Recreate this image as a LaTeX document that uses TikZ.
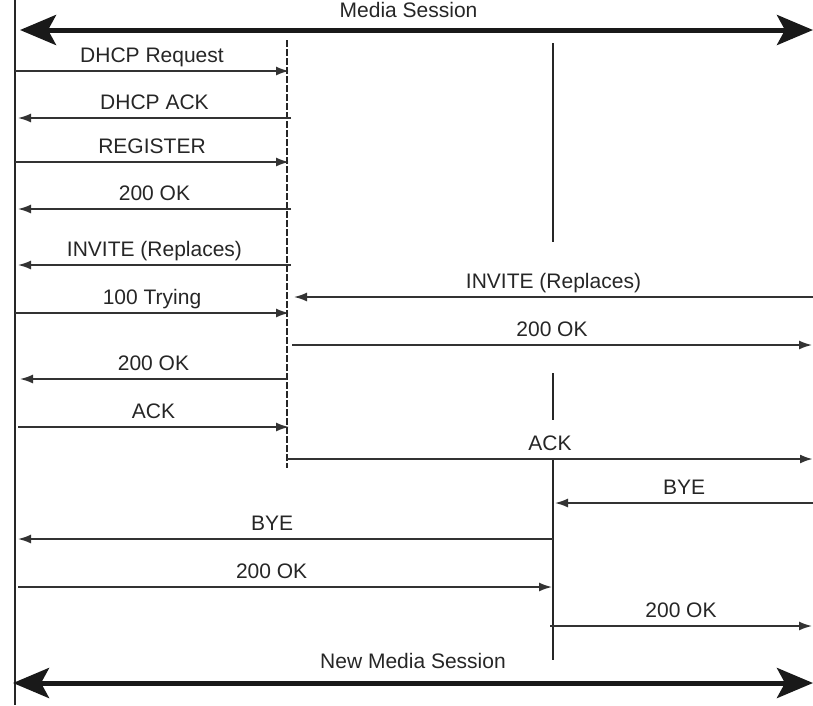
\documentclass[tikz,border=0pt]{standalone}
\usepackage{fontspec}
\setmainfont{Liberation Sans}
\usetikzlibrary{arrows.meta}

\begin{document}
\begin{tikzpicture}[
    x=1pt, y=-1pt,
    lifeline/.style={draw=black!85, line width=1.8pt},
    msg/.style={draw=black!80, line width=1.6pt, -{Latex[length=13pt, width=9pt]}},
    lbl/.style={anchor=base, yshift=9pt, inner sep=0pt, text=black!85, font=\fontsize{21}{25}\selectfont},
    session/.style={draw=black!90, line width=5pt, {Stealth[length=36pt, width=30pt, inset=8pt]}-{Stealth[length=36pt, width=30pt, inset=8pt]}}
]
\useasboundingbox (0,0) rectangle (813,705);

% lifelines
\coordinate (phoneTop) at (15,0);
\coordinate (phoneBot) at (15,705);
\coordinate (proxyTop) at (287,40);
\coordinate (proxyBot) at (287,468);
\coordinate (uaTopA) at (553,43);
\coordinate (uaBotA) at (553,242);
\coordinate (uaTopB) at (553,373);
\coordinate (uaBotB) at (553,420);
\coordinate (uaTopC) at (553,458);
\coordinate (uaBotC) at (553,660);

\draw[lifeline] (phoneTop) -- (phoneBot);
\draw[lifeline, line width=2.2pt, dash pattern=on 7pt off 2pt] (proxyTop) -- (proxyBot);
\draw[lifeline] (uaTopA) -- (uaBotA);
\draw[lifeline] (uaTopB) -- (uaBotB);
\draw[lifeline] (uaTopC) -- (uaBotC);

% media sessions
\coordinate (sesL) at (20,30);
\coordinate (sesR) at (813,30);
\coordinate (newSesL) at (13,683);
\coordinate (newSesR) at (813,683);
\draw[session] (sesL) -- (sesR) node[lbl, pos=.49, yshift=4pt] {Media Session};
\draw[session] (newSesL) -- (newSesR) node[lbl, midway, yshift=6pt] {New Media Session};

% messages between phone and proxy
\coordinate (dreqA) at (15,71);   \coordinate (dreqB) at (289,71);
\coordinate (dackA) at (291,118); \coordinate (dackB) at (18,118);
\coordinate (regA) at (15,162);   \coordinate (regB) at (289,162);
\coordinate (okA) at (291,209);   \coordinate (okB) at (18,209);
\coordinate (invA) at (291,265);  \coordinate (invB) at (18,265);
\coordinate (tryA) at (15,313);   \coordinate (tryB) at (289,313);
\coordinate (okInvA) at (287,379); \coordinate (okInvB) at (20,379);
\coordinate (ackA) at (18,427);   \coordinate (ackB) at (289,427);

\draw[msg] (dreqA) -- (dreqB) node[lbl, midway] {DHCP Request};
\draw[msg] (dackA) -- (dackB) node[lbl, midway] {DHCP ACK};
\draw[msg] (regA) -- (regB) node[lbl, midway] {REGISTER};
\draw[msg] (okA) -- (okB) node[lbl, midway] {200 OK};
\draw[msg] (invA) -- (invB) node[lbl, midway] {INVITE (Replaces)};
\draw[msg] (tryA) -- (tryB) node[lbl, midway] {100 Trying};
\draw[msg] (okInvA) -- (okInvB) node[lbl, midway] {200 OK};
\draw[msg] (ackA) -- (ackB) node[lbl, midway] {ACK};

% messages between proxy and far end
\coordinate (rinvA) at (813,297); \coordinate (rinvB) at (294,297);
\coordinate (rokA) at (292,345);  \coordinate (rokB) at (812,345);
\coordinate (rackA) at (287,459); \coordinate (rackB) at (813,459);

\draw[msg] (rinvA) -- (rinvB) node[lbl, midway] {INVITE (Replaces)};
\draw[msg] (rokA) -- (rokB) node[lbl, midway] {200 OK};
\draw[msg, line width=2.4pt] (rackA) -- (rackB) node[lbl, midway] {ACK};

% teardown
\coordinate (byeA) at (813,503);  \coordinate (byeB) at (555,503);
\coordinate (lbyeA) at (553,539); \coordinate (lbyeB) at (18,539);
\coordinate (lokA) at (18,587);   \coordinate (lokB) at (552,587);
\coordinate (rokbA) at (550,626); \coordinate (rokbB) at (812,626);

\draw[msg] (byeA) -- (byeB) node[lbl, midway] {BYE};
\draw[msg] (lbyeA) -- (lbyeB) node[lbl, pos=.525] {BYE};
\draw[msg] (lokA) -- (lokB) node[lbl, pos=.475] {200 OK};
\draw[msg] (rokbA) -- (rokbB) node[lbl, midway] {200 OK};
\end{tikzpicture}
\end{document}
